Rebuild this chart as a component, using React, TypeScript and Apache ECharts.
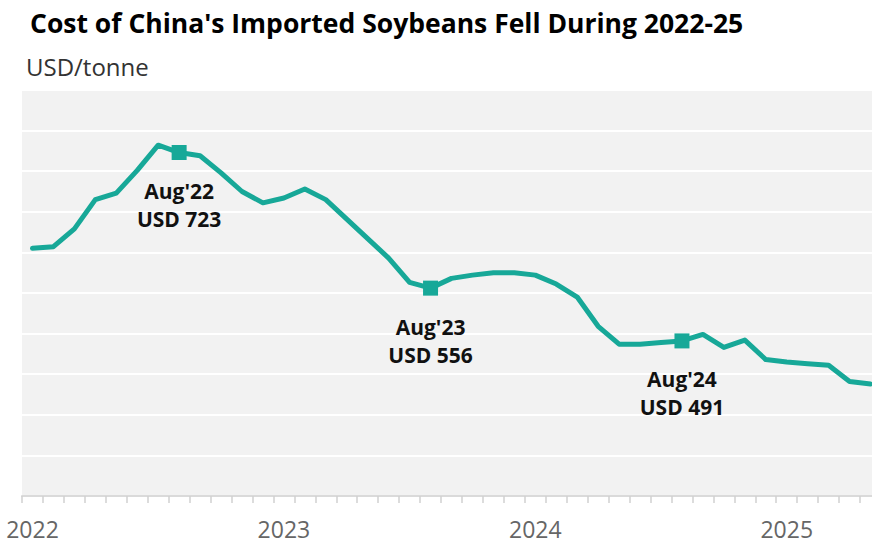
import React, { useEffect, useRef } from "react";
import * as echarts from "echarts";

// Monthly cost of imported soybeans, USD per tonne
const months: string[] = [
  "2022-01", "2022-02", "2022-03", "2022-04", "2022-05", "2022-06",
  "2022-07", "2022-08", "2022-09", "2022-10", "2022-11", "2022-12",
  "2023-01", "2023-02", "2023-03", "2023-04", "2023-05", "2023-06",
  "2023-07", "2023-08", "2023-09", "2023-10", "2023-11", "2023-12",
  "2024-01", "2024-02", "2024-03", "2024-04", "2024-05", "2024-06",
  "2024-07", "2024-08", "2024-09", "2024-10", "2024-11", "2024-12",
  "2025-01", "2025-02", "2025-03", "2025-04", "2025-05",
];

const cost: number[] = [
  605, 607, 629, 665, 673, 701, 732, 723, 719, 698, 675, 661,
  667, 678, 665, 641, 617, 593, 563, 556, 568, 572, 575, 575,
  572, 561, 545, 509, 487, 487, 489, 491, 499, 483, 492, 468,
  465, 463, 461, 441, 438,
];

// Months called out with a marker and a value label
const highlightMonths: string[] = ["2022-08", "2023-08", "2024-08"];

const monthNames: string[] = [
  "Jan", "Feb", "Mar", "Apr", "May", "Jun",
  "Jul", "Aug", "Sep", "Oct", "Nov", "Dec",
];

const yTicks = { min: 300, max: 800, step: 50 };

const TEAL = "#17a898";
const FONT = "'Open Sans', 'Noto Sans', sans-serif";

export default function App() {
  const ref = useRef<HTMLDivElement>(null);

  useEffect(() => {
    if (!ref.current) return;
    const chart = echarts.init(ref.current, null, { renderer: "svg" });

    const highlights = highlightMonths.map((m) => [m, cost[months.indexOf(m)]]);

    chart.setOption({
      animation: false,
      backgroundColor: "#ffffff",
      textStyle: { fontFamily: FONT },
      title: [
        {
          text: "Cost of China's Imported Soybeans Fell During 2022-25",
          left: 25,
          top: 4,
          textStyle: {
            fontFamily: FONT,
            fontSize: 26.5,
            fontWeight: "bold",
            color: "#000000",
          },
        },
        {
          text: "USD/tonne",
          left: 21,
          top: 49,
          textStyle: {
            fontFamily: FONT,
            fontSize: 24,
            fontWeight: "normal",
            color: "#333333",
          },
        },
      ],
      grid: {
        left: 22,
        right: 0,
        top: 90,
        bottom: 51,
        show: true,
        backgroundColor: "#f2f2f2",
        borderWidth: 0,
        containLabel: false,
      },
      xAxis: {
        type: "category",
        data: months,
        boundaryGap: true,
        axisLine: { show: true, lineStyle: { color: "#dadada", width: 2 } },
        axisTick: {
          show: true,
          interval: 0,
          length: 7,
          lineStyle: { color: "#d0d0d0", width: 1.5 },
        },
        axisLabel: {
          interval: (index: number) => index % 12 === 0,
          formatter: (v: string) => v.slice(0, 4),
          fontFamily: FONT,
          fontSize: 23,
          color: "#666666",
          margin: 21,
        },
        splitLine: { show: false },
      },
      yAxis: {
        type: "value",
        min: yTicks.min,
        max: yTicks.max,
        interval: yTicks.step,
        axisLine: { show: false },
        axisTick: { show: false },
        axisLabel: { show: false },
        splitLine: { show: true, lineStyle: { color: "#ffffff", width: 2 } },
      },
      series: [
        {
          type: "line",
          data: cost,
          showSymbol: false,
          symbol: "none",
          lineStyle: { color: TEAL, width: 5, join: "round", cap: "round" },
          z: 2,
        },
        {
          type: "scatter",
          data: highlights,
          symbol: "rect",
          symbolSize: 15,
          itemStyle: { color: TEAL, opacity: 1 },
          z: 3,
          label: {
            show: true,
            position: "bottom",
            distance: 17,
            fontFamily: FONT,
            fontSize: 21,
            fontWeight: "bold",
            lineHeight: 28,
            color: "#111111",
            opacity: 1,
            align: "center",
            formatter: (p: any) => {
              const [y, m] = (p.value[0] as string).split("-");
              return `${monthNames[Number(m) - 1]}'${y.slice(2)}\nUSD ${p.value[1]}`;
            },
          },
        },
      ],
    });

    return () => chart.dispose();
  }, []);

  return (
    <div
      ref={ref}
      style={{ position: "fixed", left: 0, top: 0, width: 881, height: 547 }}
    />
  );
}
